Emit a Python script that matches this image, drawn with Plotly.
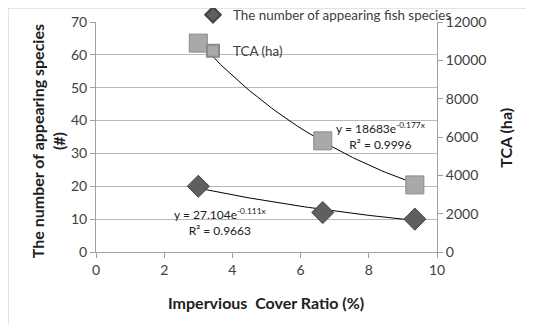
import numpy as np
import plotly.graph_objects as go

# Data
icr_fish = [3.0, 6.65, 9.35]
fish_species = [20, 12, 10]
icr_tca = [3.0, 6.65, 9.35]
tca_ha = [10900, 5800, 3500]

# Trendline coefficients (as displayed on chart)
fish_a, fish_b = 27.104, -0.111
tca_a, tca_b = 18683, -0.177

xt = np.linspace(3.0, 9.35, 60)
fish_trend = fish_a * np.exp(fish_b * xt)
tca_trend = tca_a * np.exp(tca_b * xt)

FONT = "Lato, 'Open Sans', sans-serif"
fig = go.Figure()

fig.add_trace(go.Scatter(x=xt, y=fish_trend, mode="lines", line=dict(color="black", width=1),
                         showlegend=False, hoverinfo="skip"))
fig.add_trace(go.Scatter(x=xt, y=tca_trend, mode="lines", line=dict(color="black", width=1),
                         yaxis="y2", showlegend=False, hoverinfo="skip"))

fig.add_trace(go.Scatter(x=icr_fish, y=fish_species, mode="markers", name="The number of appearing fish species",
                         marker=dict(symbol="diamond", size=17, color="#5f5f5f",
                                     line=dict(color="#444444", width=1)),
                         legend="legend"))
fig.add_trace(go.Scatter(x=icr_tca, y=tca_ha, mode="markers", name="TCA (ha)", yaxis="y2",
                         marker=dict(symbol="square", size=18, color="#a9a9a9",
                                     line=dict(color="#8a8a8a", width=1)),
                         legend="legend2"))

axcol = "#a0a0a0"
tickfont = dict(family=FONT, size=14, color="#404040")
titlefont = dict(family=FONT, size=16, color="#202020")

W, H = 534, 324
fig.update_layout(
    width=W, height=H,
    margin=dict(l=88, r=105, t=14, b=80, autoexpand=False),
    paper_bgcolor="white", plot_bgcolor="white",
    font=dict(family=FONT),
    xaxis=dict(range=[0, 10], dtick=2, showgrid=False, zeroline=False, automargin=False,
               showline=True, linecolor=axcol, ticks="outside", ticklen=5, tickcolor=axcol,
               tickfont=tickfont),
    yaxis=dict(range=[0, 70], dtick=10, showgrid=True, gridcolor="#b8b8b8", gridwidth=1,
               zeroline=False, showline=True, linecolor=axcol, ticks="outside", ticklen=5,
               tickcolor=axcol, tickfont=tickfont, automargin=False),
    yaxis2=dict(range=[0, 12000], dtick=2000, tickformat="d", overlaying="y", side="right", showgrid=False,
                zeroline=False, showline=True, linecolor=axcol, ticks="outside", ticklen=5,
                tickcolor=axcol, tickfont=tickfont, automargin=False),
    legend=dict(x=185 / W, y=1 - 7 / H, xref="container", yref="container", xanchor="left", yanchor="middle",
                bgcolor="rgba(0,0,0,0)",
                font=dict(family=FONT, size=13.4, color="#404040"), itemsizing="constant"),
    legend2=dict(x=185 / W, y=1 - 43 / H, xref="container", yref="container", xanchor="left", yanchor="middle",
                 bgcolor="rgba(0,0,0,0)",
                 font=dict(family=FONT, size=13.4, color="#404040"), itemsizing="constant"),
    showlegend=True,
)

# axis titles
fig.add_annotation(xref="paper", yref="paper", x=-0.14, y=0.483, textangle=-90, showarrow=False,
                   xanchor="center", yanchor="middle",
                   text="<b>The number of appearing species<br>(#)</b>", font=titlefont, align="center")
fig.add_annotation(xref="paper", yref="paper", x=1.202, y=0.496, textangle=-90, showarrow=False,
                   xanchor="center", yanchor="middle",
                   text="<b>TCA (ha)</b>", font=titlefont)
fig.add_annotation(xref="paper", yref="paper", x=0.4985, y=-0.218, showarrow=False,
                   xanchor="center", yanchor="middle",
                   text="<b>Impervious  Cover Ratio (%)</b>", font=titlefont)

# trendline labels
fig.add_annotation(x=8.36, y=6050, yref="y2", text="y = 18683e<sup>-0.177x</sup><br>R² = 0.9996",
                   showarrow=False, font=dict(family=FONT, size=12, color="#202020"), align="center")
fig.add_annotation(x=3.64, y=1590, yref="y2", text="y = 27.104e<sup>-0.111x</sup><br>R² = 0.9663",
                   showarrow=False, font=dict(family=FONT, size=12, color="#202020"), align="center")

# chart-area frame (figure's own top-left corner)
fig.add_shape(type="rect", xref="paper", yref="paper", x0=-88 / 341, y0=-0.5, x1=1.5, y1=1 + 14 / 230,
              line=dict(color="#c8c8c8", width=1), layer="below")

fig.write_html("out.html")
